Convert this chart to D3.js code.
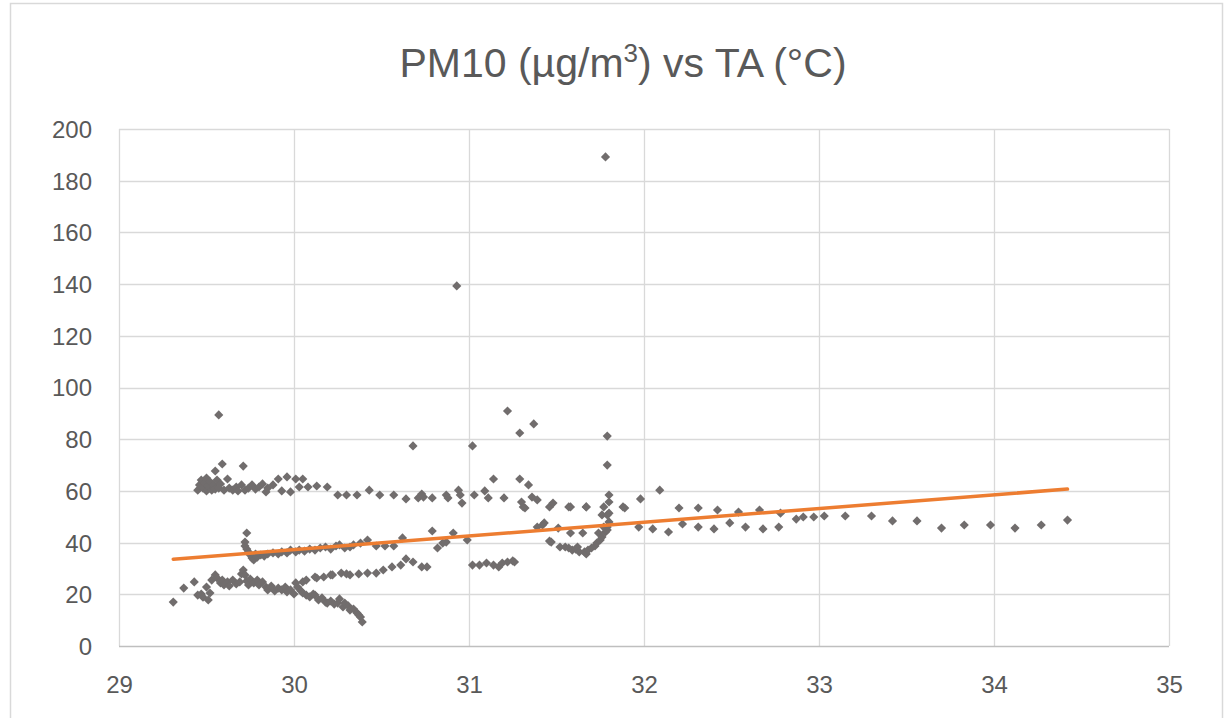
<!DOCTYPE html>
<html>
<head>
<meta charset="utf-8">
<script src="https://cdn.jsdelivr.net/npm/d3@7"></script>
<style>
  body { margin: 0; background: #fff; }
  text { font-family: "Liberation Sans", Arial, sans-serif; fill: #595959; }
</style>
</head>
<body>
<div id="chart"></div>
<script>
// PM10 (ug/m3) against air temperature
var upperBand = [
  [29.45,60.3],[29.46,62.3],[29.47,64.2],[29.48,61.1],[29.49,63.1],[29.50,60.0],[29.50,65.0],
  [29.51,61.9],[29.52,63.5],[29.53,60.3],[29.54,62.3],[29.55,67.7],[29.55,60.7],[29.56,64.2],
  [29.57,61.1],[29.58,62.7],[29.59,70.4],[29.60,60.3],[29.62,64.6],[29.63,61.1],[29.65,60.3],
  [29.67,61.5],[29.68,60.0],[29.70,62.3],[29.71,69.6],[29.72,60.3],[29.74,61.1],[29.76,62.3],
  [29.78,60.7],[29.80,61.5],[29.82,62.7],[29.84,59.6],[29.85,61.1],[29.88,62.3],[29.91,64.6],
  [29.93,60.0],[29.96,65.4],[29.98,59.6],[30.01,64.6],[30.03,61.5],[30.05,64.6],[30.08,61.5],
  [30.13,61.9],[30.19,61.5],[30.25,58.4],[30.30,58.4],[30.36,58.4],[30.43,60.3],[30.49,58.4],
  [30.57,58.4],[30.64,56.9],[30.71,57.3],[30.73,58.8],[30.74,57.6],[30.79,57.3],[30.87,58.4],
  [30.88,57.3],[30.94,60.3],[30.95,58.4],[30.96,55.3],[31.03,58.4],[31.09,60.0],[31.11,57.3],
  [31.14,64.6],[31.20,57.3],[31.29,64.6],[31.30,55.7],[31.31,53.8],[31.32,53.4],[31.34,62.3],
  [31.36,57.6],[31.39,56.5],[31.46,53.8],[31.48,55.3],[31.57,53.8],[31.67,53.8]
];

var outliers = [
  [29.57,89.4],[30.68,77.4],[30.93,139.3],[31.02,77.4],[31.22,90.9],[31.29,82.4],
  [31.37,85.9],[31.78,189.2],[31.79,81.2],[31.79,70.0]
];

var middleBand = [
  [29.73,43.7],[29.72,40.2],[29.72,38.7],[29.73,37.5],[29.74,36.4],[29.75,35.2],[29.76,34.0],
  [29.77,33.3],[29.78,35.6],[29.79,34.4],[29.81,35.2],[29.83,34.8],[29.85,35.6],[29.88,36.0],
  [29.91,35.6],[29.93,36.4],[29.96,36.0],[29.98,37.1],[30.01,36.4],[30.03,37.1],[30.06,36.7],
  [30.09,37.5],[30.12,37.1],[30.15,37.9],[30.18,38.3],[30.21,37.5],[30.24,38.7],[30.26,39.1],
  [30.29,37.9],[30.32,38.3],[30.34,39.1],[30.38,39.8],[30.42,41.0],[30.47,38.7],[30.52,38.7],
  [30.57,38.7],[30.62,41.8],[30.79,44.5],[30.82,37.9],[30.85,39.8],[30.87,40.2],[30.91,43.7],
  [30.99,41.0]
];

var secondBand = [
  [30.05,24.8],[30.07,25.5],[30.12,26.7],[30.13,26.3],[30.17,26.7],[30.21,27.5],[30.22,27.5],
  [30.27,28.2],[30.30,27.9],[30.32,27.5],[30.37,27.9],[30.42,28.2],[30.47,28.2],[30.51,29.4],
  [30.56,30.6],[30.61,31.3],[30.64,33.7],[30.68,32.5],[30.73,30.6],[30.76,30.6],
  [31.02,31.3],[31.06,31.3],[31.10,32.1],[31.14,31.3],[31.17,30.6],[31.19,32.1],[31.22,32.5],
  [31.25,32.9],[31.26,32.5]
];

var lowerBand = [
  [29.31,17.0],[29.37,22.4],[29.43,24.8],[29.45,19.7],[29.47,20.1],[29.48,18.9],[29.50,22.8],
  [29.51,17.8],[29.52,20.5],[29.53,25.5],[29.55,27.5],[29.56,26.3],[29.58,24.4],[29.59,25.5],
  [29.60,23.6],[29.62,24.8],[29.63,23.2],[29.65,25.5],[29.67,24.0],[29.69,24.8],[29.70,27.9],
  [29.71,29.4],[29.72,27.5],[29.73,25.1],[29.74,23.6],[29.75,25.9],[29.77,24.4],[29.79,25.5],
  [29.80,23.6],[29.82,24.8],[29.84,22.8],[29.85,21.7],[29.87,23.2],[29.89,21.3],[29.91,22.4],
  [29.93,21.7],[29.95,22.8],[29.96,20.9],[29.98,21.7],[30.00,20.1],[30.01,24.4],[30.02,22.8],
  [30.04,21.3],[30.05,20.5],[30.07,19.7],[30.09,19.0],[30.11,20.1],[30.12,19.7],[30.14,17.8],
  [30.16,18.6],[30.18,17.0],[30.19,16.6],[30.21,17.4],[30.23,16.2],[30.25,16.6],[30.26,18.2],
  [30.28,15.1],[30.29,16.6],[30.31,15.5],[30.32,13.9],[30.34,14.3],[30.36,12.8],[30.37,12.0],
  [30.38,11.2],[30.39,9.3]
];

var dipCluster = [
  [31.39,46.0],[31.42,46.8],[31.43,47.6],[31.46,40.6],[31.47,40.2],[31.51,45.6],[31.52,38.3],
  [31.55,38.3],[31.57,37.9],[31.58,43.7],[31.58,53.8],[31.59,37.1],[31.61,37.5],[31.62,38.3],
  [31.63,36.4],[31.65,43.7],[31.66,36.4],[31.67,35.6],[31.67,53.8],[31.68,37.1],[31.70,37.9],
  [31.72,38.7],[31.73,39.8],[31.74,43.7],[31.75,41.0],[31.76,50.7],[31.76,42.2],[31.77,46.0],
  [31.77,53.8],[31.78,44.1],[31.79,44.9],[31.79,50.7],[31.79,46.0],[31.80,58.4],[31.80,55.7],
  [31.80,51.4],[31.80,48.0],[31.88,53.8],[31.89,53.4]
];

var rightSeries = [
  [31.97,46.0],[31.98,56.9],[32.05,45.3],[32.09,60.3],[32.14,44.1],[32.20,53.4],[32.22,47.2],
  [32.31,53.4],[32.31,46.0],[32.40,45.3],[32.42,52.6],[32.49,47.6],[32.54,51.8],[32.58,46.0],
  [32.66,52.6],[32.68,45.3],[32.77,46.0],[32.78,51.4],[32.87,49.1],[32.91,49.9],[32.97,49.9],
  [33.03,50.3],[33.15,50.3],[33.30,50.3],[33.42,48.4],[33.56,48.4],[33.70,45.6],[33.83,46.8],
  [33.98,46.8],[34.12,45.6],[34.27,46.8],[34.42,48.7]
];

// linear trendline ends
var trendTA = [29.31, 34.42];
var trendPM = [33.6, 60.7];

var xTicks = [29, 30, 31, 32, 33, 34, 35];
var yTicks = [0, 20, 40, 60, 80, 100, 120, 140, 160, 180, 200];

var width = 1230;
var height = 718;
var margin = {top: 129, right: 61, bottom: 72, left: 119};

var points = [].concat(upperBand, outliers, middleBand, secondBand, lowerBand, dipCluster, rightSeries);

var svg = d3.select('#chart')
    .append('svg')
    .attr('width', width)
    .attr('height', height);

// chart frame
svg.append('rect')
    .attr('x', 10.5)
    .attr('y', 3.5)
    .attr('width', 1212)
    .attr('height', 730)
    .attr('fill', '#fff')
    .attr('stroke', '#d9d9d9')
    .attr('stroke-width', 1.5);

var x = d3.scaleLinear()
    .domain([29, 35])
    .range([margin.left, width - margin.right]);

var y = d3.scaleLinear()
    .domain([0, 200])
    .range([height - margin.bottom, margin.top]);

// gridlines
svg.append('g')
    .selectAll('line')
    .data(yTicks.slice(1))
    .enter()
    .append('line')
    .attr('x1', x(29))
    .attr('x2', x(35))
    .attr('y1', function (d) {return Math.round(y(d)) + 0.5;})
    .attr('y2', function (d) {return Math.round(y(d)) + 0.5;})
    .attr('stroke', '#d9d9d9')
    .attr('stroke-width', 1.3);

svg.append('g')
    .selectAll('line')
    .data(xTicks)
    .enter()
    .append('line')
    .attr('x1', function (d) {return Math.round(x(d)) + 0.5;})
    .attr('x2', function (d) {return Math.round(x(d)) + 0.5;})
    .attr('y1', y(0))
    .attr('y2', y(200))
    .attr('stroke', '#d9d9d9')
    .attr('stroke-width', 1.3);

// x axis line
svg.append('line')
    .attr('x1', x(29))
    .attr('x2', x(35))
    .attr('y1', Math.round(y(0)) + 0.5)
    .attr('y2', Math.round(y(0)) + 0.5)
    .attr('stroke', '#bfbfbf')
    .attr('stroke-width', 1.5);

// axes, labels only
var xAxis = svg.append('g')
    .attr('transform', 'translate(0,' + y(0) + ')')
    .call(d3.axisBottom(x).tickValues(xTicks).tickFormat(d3.format('d')).tickSize(0).tickPadding(47));
xAxis.select('.domain').remove();
xAxis.selectAll('text')
    .style('font-size', '24px')
    .attr('fill', '#595959')
    .attr('dy', 0);

var yAxis = svg.append('g')
    .attr('transform', 'translate(' + x(29) + ',0)')
    .call(d3.axisLeft(y).tickValues(yTicks).tickFormat(d3.format('d')).tickSize(0).tickPadding(27));
yAxis.select('.domain').remove();
yAxis.selectAll('text')
    .style('font-size', '24px')
    .attr('fill', '#595959')
    .attr('dy', '0.35em');

// markers
var diamond = d3.symbol().type(d3.symbolSquare).size(42);

svg.append('g')
    .selectAll('path')
    .data(points)
    .enter()
    .append('path')
    .attr('d', diamond)
    .attr('transform', function (d) {
        return 'translate(' + x(d[0]) + ',' + y(d[1]) + ') rotate(45)';
    })
    .attr('fill', '#716d6d');

// trendline
svg.append('line')
    .attr('x1', x(trendTA[0]))
    .attr('y1', y(trendPM[0]))
    .attr('x2', x(trendTA[1]))
    .attr('y2', y(trendPM[1]))
    .attr('stroke', '#ed7d31')
    .attr('stroke-width', 3.5)
    .attr('stroke-linecap', 'round');

// title
var title = svg.append('text')
    .attr('x', 623)
    .attr('y', 77)
    .attr('text-anchor', 'middle')
    .style('font-size', '41px');
title.append('tspan').text('PM10 (µg/m');
title.append('tspan').text('3').attr('dy', -15).style('font-size', '26px');
title.append('tspan').text(') vs TA (°C)').attr('dy', 15);
</script>
</body>
</html>
